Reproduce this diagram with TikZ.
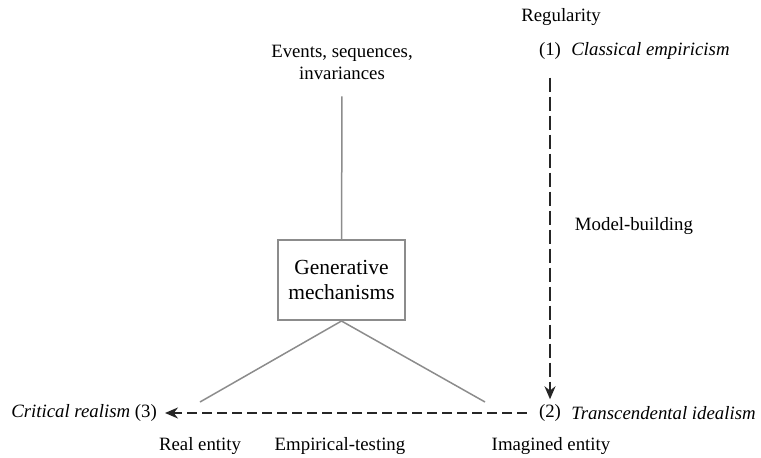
\documentclass[tikz,border=0pt]{standalone}
\usepackage{fontspec}
\setmainfont{Liberation Serif}
\usetikzlibrary{positioning,arrows.meta}

\begin{document}
\begin{tikzpicture}[%
x=1pt,y=-1pt,
tekst/.style={font=\fontsize{18.8}{22}\selectfont,inner sep=0pt,align=center},
graalinje/.style={draw=black!45,line width=1.5pt},
stiplet/.style={draw=black!85,line width=2pt,dash pattern=on 10pt off 5pt},
boks/.style={draw=black!45,line width=2pt,minimum width=127pt,minimum height=80pt,
  font=\fontsize{21.5}{25}\selectfont,align=center},
node distance=10pt]
\useasboundingbox (0,0) rectangle (761,458);
% top right: regularity and (1)
\node [tekst] (regularitet) at (561,17) {Regularity};
\node [tekst] (en) at (550,51) {(1)};
\node [tekst,right=of en] (empiri) {\itshape Classical empiricism};
% left column
\node [tekst] (hendelser) at (342,62) {Events, sequences,\\invariances};
\node [boks] (mekanismer) at (341.5,280) {Generative\\mechanisms};
\coordinate (venstrefot) at (200,402);
\coordinate (hoyrefot) at (485,402);
% bottom row
\node [tekst] (to) at (550,413) {(2)};
\node [tekst,right=of to] (ideal) {\itshape Transcendental idealism};
\node [tekst,anchor=east] (tre) at (157,413) {\itshape Critical realism\/ \upshape(3)};
\node [tekst] (modell) at (634,226) {Model-building};
\node [tekst] (reell) at (200,446) {Real entity};
\node [tekst] (testing) at (340,446) {Empirical-testing};
\node [tekst] (forestilt) at (551,446) {Imagined entity};
% connectors
\draw [graalinje,shorten <=17pt] (hendelser) -- (mekanismer);
\draw [graalinje] (mekanismer.south) -- (venstrefot);
\draw [graalinje] (mekanismer.south) -- (hoyrefot);
\draw [stiplet,dash pattern=on 14pt off 5pt,->,>={Stealth[length=13pt,width=11pt]},
  shorten <=18pt,shorten >=5pt] (en) -- (to);
\draw [stiplet,->,>={Stealth[length=13pt,width=11pt]},shorten <=12pt,shorten >=8pt] (to) -- (tre);
\end{tikzpicture}
\end{document}
